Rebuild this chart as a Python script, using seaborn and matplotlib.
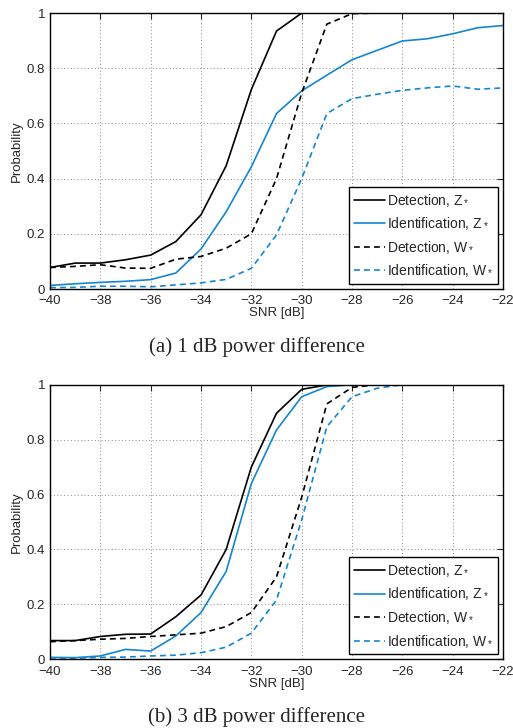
import numpy as np
import pandas as pd
import seaborn as sns
import matplotlib
matplotlib.use('Agg')
import matplotlib.pyplot as plt

snr = list(range(-40, -21))

# (a) 1 dB power difference
det_z_a = [0.078, 0.094, 0.094, 0.106, 0.123, 0.172, 0.269, 0.447, 0.723, 0.935, 1.0,
           1.0, 1.0, 1.0, 1.0, 1.0, 1.0, 1.0, 1.0]
idf_z_a = [0.013, 0.019, 0.024, 0.028, 0.034, 0.058, 0.145, 0.28, 0.443, 0.636, 0.718,
           0.775, 0.831, 0.865, 0.899, 0.907, 0.925, 0.947, 0.955]
det_w_a = [0.078, 0.082, 0.088, 0.076, 0.075, 0.108, 0.118, 0.148, 0.2, 0.40, 0.71,
           0.96, 0.998, 1.0, 1.0, 1.0, 1.0, 1.0, 1.0]
idf_w_a = [0.005, 0.006, 0.01, 0.01, 0.008, 0.015, 0.022, 0.035, 0.075, 0.196, 0.40,
           0.636, 0.69, 0.706, 0.72, 0.729, 0.736, 0.724, 0.729]

# (b) 3 dB power difference
det_z_b = [0.068, 0.068, 0.083, 0.091, 0.092, 0.155, 0.234, 0.40, 0.70, 0.896, 0.983,
           0.999, 1.0, 1.0, 1.0, 1.0, 1.0, 1.0, 1.0]
idf_z_b = [0.007, 0.006, 0.012, 0.036, 0.03, 0.085, 0.17, 0.32, 0.64, 0.835, 0.956,
           0.993, 1.0, 1.0, 1.0, 1.0, 1.0, 1.0, 1.0]
det_w_b = [0.064, 0.068, 0.073, 0.076, 0.083, 0.089, 0.095, 0.119, 0.17, 0.30, 0.59,
           0.93, 0.99, 1.0, 1.0, 1.0, 1.0, 1.0, 1.0]
idf_w_b = [0.005, 0.004, 0.007, 0.008, 0.012, 0.015, 0.024, 0.044, 0.095, 0.216, 0.507,
           0.847, 0.956, 0.987, 1.0, 1.0, 1.0, 1.0, 1.0]

labels = ['Detection, Z$_*$', 'Identification, Z$_*$',
          'Detection, W$_*$', 'Identification, W$_*$']
captions = ['(a) 1 dB power difference', '(b) 3 dB power difference']

blue = '#1386cf'
styles = [('black', '-'), (blue, '-'), ('black', '--'), (blue, '--')]

sns.set_style('white')
plt.rcParams['font.family'] = ['Liberation Sans', 'DejaVu Sans']
plt.rcParams['mathtext.fontset'] = 'custom'
plt.rcParams['mathtext.rm'] = 'Liberation Sans'

fig = plt.figure(figsize=(5.13, 7.28), dpi=100)
ax_a = fig.add_axes([0.0975, 0.603, 0.883, 0.379])
ax_b = fig.add_axes([0.0975, 0.0944, 0.883, 0.3772])

panels = [(ax_a, [det_z_a, idf_z_a, det_w_a, idf_w_a]),
          (ax_b, [det_z_b, idf_z_b, det_w_b, idf_w_b])]

fs = 9.5
for (ax, series), cap in zip(panels, captions):
    for vals, lab, (col, ls) in zip(series, labels, styles):
        df = pd.DataFrame({'snr': snr, 'p': vals})
        sns.lineplot(data=df, x='snr', y='p', ax=ax, color=col, label=lab, lw=1.2)
        ax.lines[-1].set_linestyle(ls)
        if ls == '--':
            ax.lines[-1].set_dashes((3.5, 2.5))
    ax.set_xlim(-40, -22)
    ax.set_ylim(0, 1)
    ax.set_xticks(np.arange(-40, -21, 2))
    ax.set_yticks([0, 0.2, 0.4, 0.6, 0.8, 1])
    ax.set_yticklabels(['0', '0.2', '0.4', '0.6', '0.8', '1'])
    ax.set_xticklabels([f'\u2212{abs(v)}' for v in range(-40, -21, 2)])
    ax.grid(True, linestyle=(0, (1, 2.5)), color='#888888', lw=0.7)
    ax.tick_params(direction='in', top=True, right=True, labelsize=fs,
                   length=4, width=0.8, pad=4.5)
    ax.tick_params(axis='y', pad=3.5)
    for s in ax.spines.values():
        s.set_color('black')
        s.set_linewidth(1.0)
    ax.set_xlabel('SNR [dB]', fontsize=fs, labelpad=0)
    ax.set_ylabel('Probability', fontsize=fs, labelpad=3)
    leg = ax.legend(loc='lower right', fontsize=10, frameon=True, fancybox=False,
                    edgecolor='black', framealpha=1, handlelength=2.3,
                    handletextpad=0.1, borderpad=0.35, labelspacing=0.5,
                    borderaxespad=0.35)
    leg.get_frame().set_linewidth(1.0)
    pos = ax.get_position()
    fig.text(0.5, pos.y0 - 0.08, cap, ha='center', va='center', fontsize=15,
             family=['Liberation Serif', 'DejaVu Serif'])

fig.savefig('out.png', dpi=100)
